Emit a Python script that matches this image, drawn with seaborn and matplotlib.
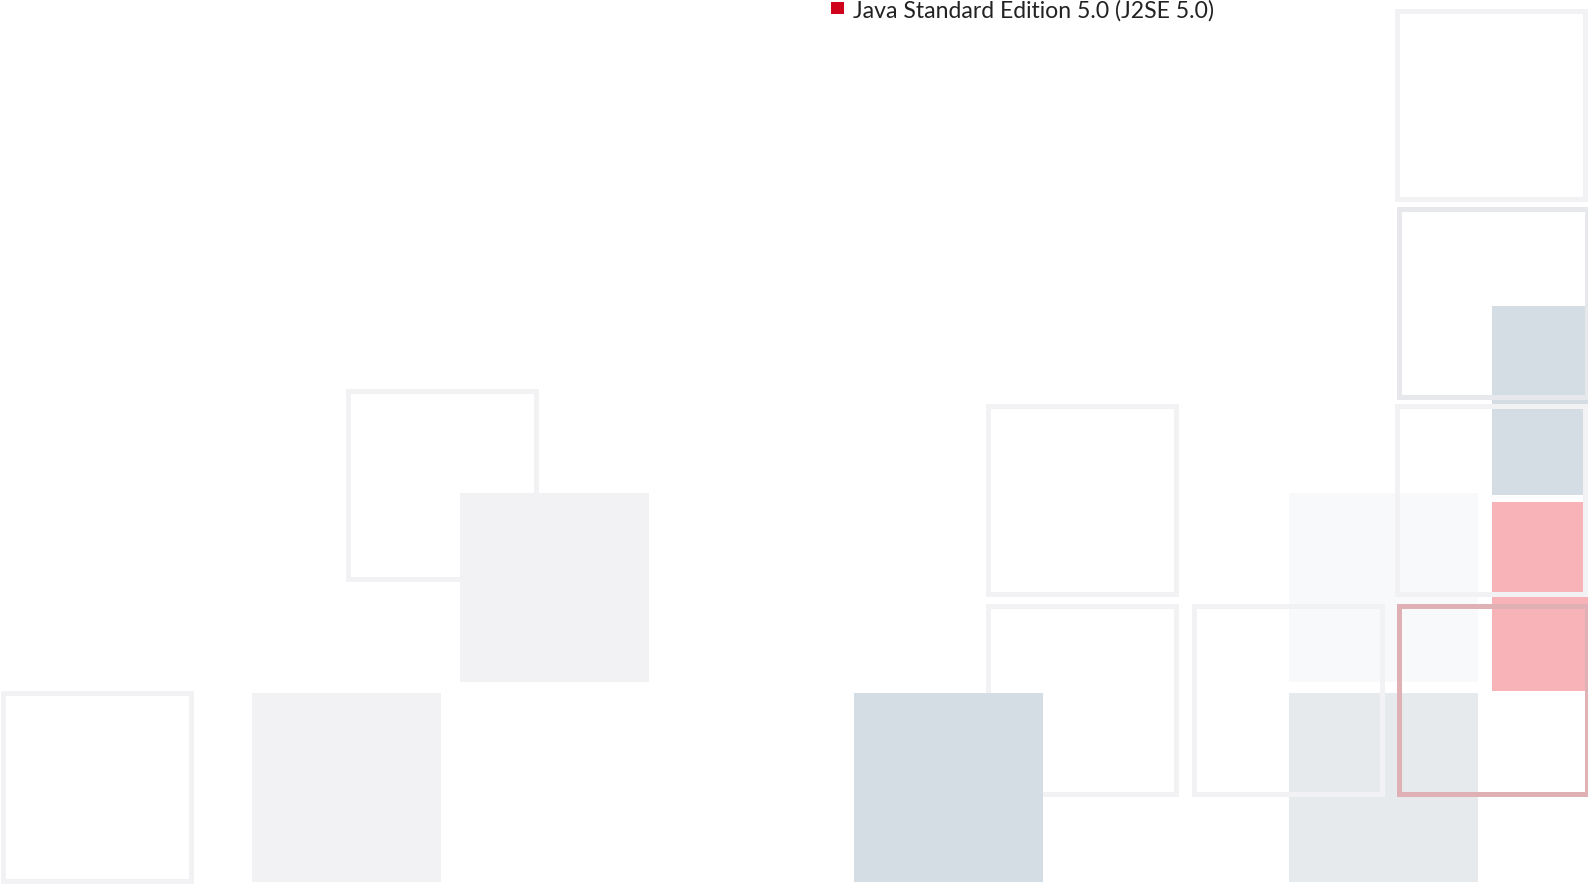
import matplotlib
matplotlib.use("Agg")
import matplotlib.pyplot as plt
import seaborn as sns

# ---------------- data ----------------
# canvas extent (pixel-like units)
canvas_w = 1588
canvas_h = 884

# filled tiles: top-left corners and colour group
fill_x = [252, 460, 854, 1289, 1289, 1492, 1492]
fill_y = [693, 493, 693, 493, 693, 306, 502]
fill_group = ["light", "light", "steel", "pale", "grey", "steel", "pink"]
tile_size = 189

# outlined tiles drawn beneath the fills
back_x = [347.5, 987.5]
back_y = [390.5, 605.5]
back_group = ["line", "line"]

# outlined tiles drawn on top of the fills
front_x = [2.5, 987.5, 1193.5, 1396.5, 1398.5, 1396.5, 1398.5]
front_y = [692.5, 405.5, 605.5, 10.5, 208.5, 405.5, 605.5]
front_group = ["line", "line", "line", "line", "line2", "line", "redline"]
box_size = 188

legend_label = "Java Standard Edition 5.0 (J2SE 5.0)"
legend_pos = (831, 2)

# ---------------- style ----------------
sns.set_theme(style="white")
plt.rcParams["font.family"] = ["Lato", "DejaVu Sans"]

fill_colors = {
    "light": "#f2f2f4",
    "steel": "#d3dde3",
    "pale": "#f8f9fa",
    "grey": "#e7eaed",
    "pink": "#f7b3b8",
}
line_colors = {
    "line": "#f2f2f4",
    "line2": "#e7e8eb",
    "redline": "#dfb1b4",
}

fig = plt.figure(figsize=(15.88, 8.84), dpi=100)
ax = fig.add_axes([0, 0, 1, 1])
ax.set_xlim(0, canvas_w)
ax.set_ylim(canvas_h, 0)
ax.axis("off")

stroke = 5 * 72 / 100  # 5 px in points

ax.bar(back_x, [box_size] * len(back_x), width=box_size, bottom=back_y,
       align="edge", fill=False,
       edgecolor=[line_colors[g] for g in back_group],
       linewidth=stroke, zorder=1)

ax.bar(fill_x, [tile_size] * len(fill_x), width=tile_size, bottom=fill_y,
       align="edge", color=[fill_colors[g] for g in fill_group],
       linewidth=0, zorder=2)

ax.bar(front_x, [box_size] * len(front_x), width=box_size, bottom=front_y,
       align="edge", fill=False,
       edgecolor=[line_colors[g] for g in front_group],
       linewidth=stroke, zorder=3)

# legend entry
ax.bar([legend_pos[0]], [12], width=13, bottom=[legend_pos[1]], align="edge",
       color="#d0021b", linewidth=0, zorder=4)
ax.text(legend_pos[0] + 22, 17.5, legend_label, fontsize=16.6, color="#222222",
        fontweight="normal", va="baseline", ha="left", zorder=5)

fig.savefig("out.png", dpi=100, facecolor="white")
